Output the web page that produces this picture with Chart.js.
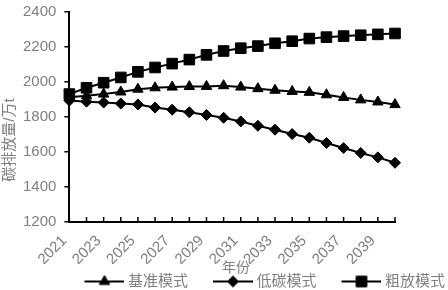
<!DOCTYPE html>
<html>
<head>
<meta charset="utf-8">
<script src="https://cdn.jsdelivr.net/npm/chart.js@4/dist/chart.umd.min.js"></script>
<style>
  body { margin: 0; background: #fff; }
  canvas { display: block; }
</style>
</head>
<body>
<canvas id="chart" width="448" height="290"></canvas>
<script>
// categories (years) and series
const years = ['2021', '2022', '2023', '2024', '2025', '2026', '2027', '2028', '2029', '2030',
               '2031', '2032', '2033', '2034', '2035', '2036', '2037', '2038', '2039', '2040'];
const baseline = [1912, 1920, 1930, 1942, 1958, 1966, 1970, 1973, 1974, 1978,
                  1970, 1961, 1952, 1945, 1940, 1926, 1911, 1897, 1885, 1870];
const lowCarbon = [1893, 1887, 1882, 1876, 1871, 1853, 1841, 1826, 1811, 1795,
                   1774, 1749, 1727, 1702, 1681, 1651, 1622, 1594, 1569, 1538];
const extensive = [1930, 1966, 1995, 2025, 2057, 2082, 2104, 2127, 2154, 2176,
                   2192, 2204, 2220, 2232, 2247, 2255, 2261, 2266, 2271, 2276];
const seriesNames = ['基准模式', '低碳模式', '粗放模式'];
const yTicks = { min: 1200, max: 2400, step: 200 };
const xTitle = '年份';
const yTitle = '碳排放量/万t';

const FONT = '"Liberation Sans", "Noto Sans CJK SC", sans-serif';
const GREY = '#7f7f7f';

Chart.defaults.font.family = FONT;
Chart.defaults.font.size = 15;
Chart.defaults.color = GREY;

// marker drawing used for the legend icons (line + marker, like the original)
function drawMarker(g, style, x, y, r) {
    g.beginPath();
    if (style === 'triangle') {
        g.moveTo(x, y - r);
        g.lineTo(x + r * 0.866, y + r * 0.5);
        g.lineTo(x - r * 0.866, y + r * 0.5);
    } else if (style === 'rectRot') {
        g.moveTo(x - r, y);
        g.lineTo(x, y - r);
        g.lineTo(x + r, y);
        g.lineTo(x, y + r);
    } else {
        const s = r * Math.SQRT1_2;
        g.rect(x - s, y - s, 2 * s, 2 * s);
    }
    g.closePath();
    g.fill();
    g.stroke();
}

const PSW = 51;
function legendIcon(style, r) {
    const w = PSW + 8;
    const c = document.createElement('canvas');
    c.width = w;
    c.height = 16;
    const g = c.getContext('2d');
    g.strokeStyle = '#000';
    g.fillStyle = '#000';
    g.lineWidth = 2;
    g.beginPath();
    g.moveTo(w - 40, 8);
    g.lineTo(w, 8);
    g.stroke();
    g.lineWidth = 1;
    drawMarker(g, style, w - 20, 8, r);
    return c;
}

const styles = ['triangle', 'rectRot', 'rect'];
const radii = [6, 5.5, 7.5];
const icons = styles.map((s, i) => legendIcon(s, radii[i]));

function makeSet(label, data, i) {
    return {
        label: label,
        data: data,
        borderColor: '#000',
        backgroundColor: '#000',
        borderWidth: 2,
        pointStyle: styles[i],
        pointRadius: radii[i],
        pointBorderWidth: 1,
        pointBackgroundColor: '#000',
        pointBorderColor: '#000',
        tension: 0
    };
}

const extras = {
    id: 'extras',
    afterDraw(chart) {
        const ctx = chart.ctx;
        const x = chart.scales.x;
        const area = chart.chartArea;
        ctx.save();
        // x tick marks point inward
        ctx.strokeStyle = '#000';
        ctx.lineWidth = 1.5;
        for (let i = 0; i < x.ticks.length; i++) {
            const px = x.getPixelForTick(i);
            ctx.beginPath();
            ctx.moveTo(px, area.bottom);
            ctx.lineTo(px, area.bottom - 5);
            ctx.stroke();
        }
        ctx.fillStyle = GREY;
        ctx.textAlign = 'center';
        ctx.textBaseline = 'middle';
        ctx.font = '14px ' + FONT;
        ctx.fillText(xTitle, 236, 268);
        ctx.translate(10, 140);
        ctx.rotate(-Math.PI / 2);
        ctx.font = '15px ' + FONT;
        ctx.fillText(yTitle, 0, 0);
        ctx.restore();
    }
};

new Chart(document.getElementById('chart'), {
    type: 'line',
    data: {
        labels: years,
        datasets: [
            makeSet(seriesNames[0], baseline, 0),
            makeSet(seriesNames[1], lowCarbon, 1),
            makeSet(seriesNames[2], extensive, 2)
        ]
    },
    options: {
        responsive: false,
        animation: false,
        devicePixelRatio: 1,
        layout: { autoPadding: false, padding: { left: 15, top: 4, right: -7, bottom: -9 } },
        plugins: {
            tooltip: { enabled: false },
            legend: {
                position: 'bottom',
                align: 'end',
                labels: {
                    usePointStyle: true,
                    pointStyleWidth: PSW,
                    padding: 10,
                    color: GREY,
                    font: { size: 15 },
                    generateLabels(chart) {
                        const items = Chart.defaults.plugins.legend.labels.generateLabels(chart);
                        items.forEach((it, i) => { it.pointStyle = icons[i]; });
                        return items;
                    }
                }
            }
        },
        scales: {
            x: {
                offset: false,
                grid: { display: false },
                border: { display: true, color: '#000', width: 2 },
                ticks: {
                    autoSkip: false,
                    maxRotation: 45,
                    minRotation: 45,
                    padding: 2,
                    labelOffset: -5,
                    color: GREY,
                    callback: (v, i) => (i % 2 === 0 ? years[i] : '')
                },
                afterFit(scale) { scale.height = 42; }
            },
            y: {
                min: yTicks.min,
                max: yTicks.max,
                grid: { drawOnChartArea: false, drawTicks: true, tickLength: 5, color: '#000', lineWidth: 1.5 },
                border: { display: true, color: '#000', width: 2 },
                ticks: {
                    stepSize: yTicks.step,
                    padding: 8,
                    color: GREY,
                    font: { size: 15, lineHeight: 0.5 },
                    callback: v => String(v)
                }
            },
            yR: {
                type: 'linear',
                position: 'right',
                display: true,
                grid: { display: false },
                border: { display: false },
                ticks: { display: false },
                afterFit(scale) { scale.width = 60; }
            }
        }
    },
    plugins: [extras]
});
</script>
</body>
</html>
